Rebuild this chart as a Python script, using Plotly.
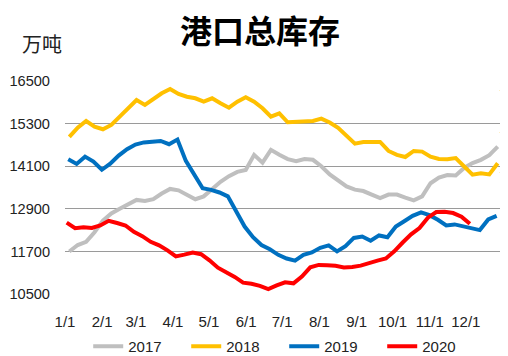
import numpy as np
import plotly.graph_objects as go

# ---- data ----
years = ["2017", "2018", "2019", "2020"]
colors = ["#BFBFBF", "#FFC000", "#0070C0", "#FF0000"]
start_day = [3.6, 3.6, 2.7, 1.4]   # first weekly observation, day of year

v2017 = [11697, 11880, 11970, 12240, 12570, 12770, 12900, 13040, 13150, 13120,
         13170, 13330, 13460, 13420, 13290, 13170, 13250, 13460, 13660, 13820,
         13940, 13996, 14420, 14200, 14560, 14420, 14300, 14240, 14300, 14280,
         14100, 13870, 13700, 13530, 13440, 13400, 13300, 13200, 13300, 13300,
         13216, 13140, 13250, 13620, 13780, 13850, 13840, 14050, 14190, 14280,
         14410, 14650]
v2018 = [14924, 15186, 15374, 15214, 15140, 15262, 15495, 15732, 15965, 15825,
         15985, 16154, 16275, 16134, 16058, 16013, 15918, 16013, 15872, 15749,
         15918, 16041, 15918, 15732, 15495, 15590, 15338, 15345, 15355, 15374,
         15440, 15330, 15180, 14970, 14736, 14784, 14784, 14784, 14530, 14420,
         14360, 14530, 14511, 14370, 14305, 14297, 14330, 14080, 13860, 13900,
         13870, 14184]
v2019 = [14297, 14164, 14370, 14229, 14000, 14170, 14400, 14580, 14710, 14770,
         14790, 14810, 14720, 14850, 14250, 13850, 13480, 13433, 13360, 13250,
         12850, 12400, 12100, 11880, 11760, 11604, 11500, 11440, 11600, 11670,
         11800, 11870, 11700, 11850, 12080, 12120, 12000, 12150, 12100, 12400,
         12550, 12700, 12800, 12720, 12590, 12430, 12460, 12400, 12340, 12300,
         12600, 12700]
v2020 = [12513, 12355, 12382, 12360, 12430, 12560, 12500, 12430, 12250, 12130,
         11970, 11870, 11730, 11560, 11610, 11670, 11620, 11450, 11240, 11120,
         10980, 10820, 10790, 10730, 10640, 10740, 10830, 10800, 10993, 11250,
         11320, 11310, 11295, 11250, 11260, 11300, 11380, 11440, 11500, 11700,
         11950, 12180, 12360, 12650, 12810, 12815, 12780, 12680, 12480]
series = [v2017, v2018, v2019, v2020]

month_labels = ["1/1", "2/1", "3/1", "4/1", "5/1", "6/1",
                "7/1", "8/1", "9/1", "10/1", "11/1", "12/1"]
month_start = [0, 31, 59, 90, 120, 151, 181, 212, 243, 273, 304, 334]
y_ticks = [10500, 11700, 12900, 14100, 15300, 16500]
right_axis_fragments = ["1", "1", "1"]   # clipped secondary-axis labels at the right edge

# ---- figure ----
FONT = "Liberation Sans, Arial, sans-serif"
CJK = "Noto Sans CJK SC, sans-serif"
W, H = 500, 348   # page body has an 8px margin

fig = go.Figure()
for name, col, s0, vals in zip(years, colors, start_day, series):
    x = s0 + 7 * np.arange(len(vals))
    fig.add_trace(go.Scatter(x=x, y=vals, mode="lines", name=name,
                             line=dict(color=col, width=4)))

annotations = [
    dict(text="万吨", xref="paper", yref="paper", x=-0.0525, y=1.178,
         xanchor="center", yanchor="middle", showarrow=False,
         font=dict(family=CJK, size=20, color="#222222")),
]
for txt, yy in zip(right_axis_fragments, [0.981, 0.784, 0.596]):
    annotations.append(dict(text=txt, xref="paper", yref="paper", x=1.0103, y=yy,
                            xanchor="right", yanchor="middle", showarrow=False,
                            borderpad=0,
                            font=dict(family=FONT, size=15, color="#222222")))

fig.update_layout(
    width=W, height=H,
    margin=dict(l=57, r=5, t=73, b=62, pad=0, autoexpand=False),
    paper_bgcolor="white", plot_bgcolor="white",
    font=dict(family=FONT, size=15, color="#222222"),
    title=dict(text="<b>港口总库存</b>", font=dict(family=CJK, size=32, color="#000000"),
               x=252 / W, xanchor="center", y=1 - 24 / H, yanchor="middle",
               xref="container", yref="container"),
    showlegend=True,
    legend=dict(orientation="h", x=0.053, xanchor="left",
                y=1 - 338.5 / H, yanchor="middle", yref="container",
                font=dict(family=FONT, size=15, color="#222222"),
                entrywidth=53, entrywidthmode="pixels", traceorder="normal",
                bgcolor="rgba(0,0,0,0)"),
    xaxis=dict(range=[0, 365], tickmode="array", tickvals=month_start,
               ticktext=month_labels, showgrid=False, zeroline=False,
               showline=False, ticks="", ticklabelstandoff=17, automargin=False,
               tickfont=dict(family=FONT, size=15, color="#222222")),
    yaxis=dict(range=[10500, 16500], tickmode="array", tickvals=y_ticks,
               ticktext=[str(v) for v in y_ticks],
               showgrid=True, gridcolor="#9a9a9a", gridwidth=1.3,
               zeroline=False, showline=False, ticks="", ticklabelstandoff=14,
               automargin=False,
               tickfont=dict(family=FONT, size=14.6, color="#222222")),
    annotations=annotations,
)

fig.write_html("out.html")
